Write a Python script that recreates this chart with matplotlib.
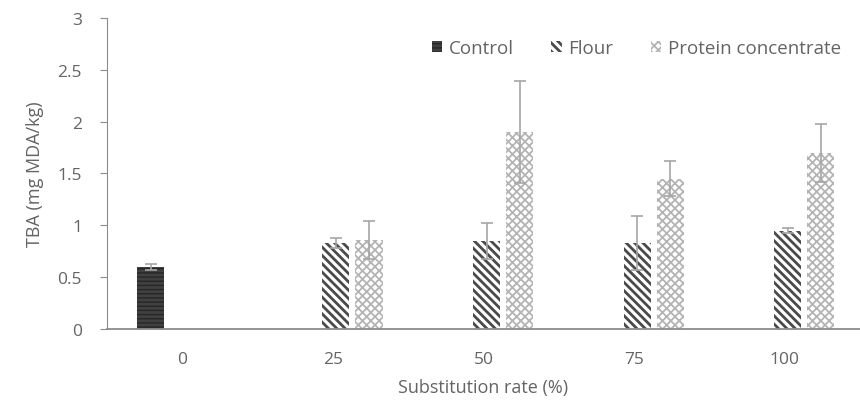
import numpy as np
import matplotlib
matplotlib.use("Agg")
import matplotlib.pyplot as plt

plt.rcParams['font.family'] = ['Open Sans', 'DejaVu Sans']
plt.rcParams['hatch.linewidth'] = 2.2

# data
rates = ['0', '25', '50', '75', '100']
control = [0.60, 0, 0, 0, 0]
control_err = [0.03, 0, 0, 0, 0]
flour = [0, 0.83, 0.85, 0.83, 0.95]
flour_err = [0, 0.05, 0.17, 0.26, 0.02]
protein = [0, 0.86, 1.90, 1.45, 1.70]
protein_err = [0, 0.18, 0.49, 0.17, 0.28]

txt = '#646464'
x = np.arange(len(rates))
w = 0.18
off = 0.22

fig = plt.figure(figsize=(8.6, 4.02), dpi=100)
ax = fig.add_axes([0.1244, 0.179, 0.8756, 0.774])

ekw = dict(ecolor='#a6a6a6', elinewidth=1.2, capsize=4, capthick=1.2)

# only draw bars where there is a value
xc = x[np.array(control) > 0]
b1 = ax.bar(xc - off + 0.01, np.array(control)[xc], w, yerr=np.array(control_err)[xc],
            color='#404040', edgecolor='#262626', hatch='----', linewidth=0,
            error_kw=ekw, label='Control')
xf = x[np.array(flour) > 0]
b2 = ax.bar(xf + 0.02, np.array(flour)[xf], w, yerr=np.array(flour_err)[xf],
            color='white', edgecolor='#4a4a4a', hatch='\\\\\\\\', linewidth=0,
            error_kw=ekw, label='Flour')
xp = x[np.array(protein) > 0]
b3 = ax.bar(xp + off + 0.02, np.array(protein)[xp], w, yerr=np.array(protein_err)[xp],
            color='white', edgecolor='#b4b4b4', hatch='xxxx', linewidth=0,
            error_kw=ekw, label='Protein concentrate')

# thinner lines for the cross pattern
for bars, lw in [(b1, 1.0), (b2, 2.0), (b3, 1.3)]:
    for p in bars.patches:
        if hasattr(p, 'set_hatch_linewidth'):
            p.set_hatch_linewidth(lw)

ax.set_xlim(-0.5, 4.5)
ax.set_ylim(0, 3)
ax.set_yticks([0, 0.5, 1, 1.5, 2, 2.5, 3])
ax.set_yticklabels(['0', '0.5', '1', '1.5', '2', '2.5', '3'])
ax.set_xticks(x)
ax.set_xticklabels(rates)

for s in ['top', 'right']:
    ax.spines[s].set_visible(False)
ax.spines['left'].set_color('#8c8c8c')
ax.spines['bottom'].set_color('#8c8c8c')
ax.spines['bottom'].set_linewidth(1.3)
ax.tick_params(axis='y', colors='#8c8c8c', labelcolor=txt, labelsize=12.5,
               length=5, direction='out', pad=13)
ax.tick_params(axis='x', length=0, labelcolor=txt, labelsize=12.5, pad=16)

ax.set_ylabel('TBA (mg MDA/kg)', color=txt, fontsize=13, labelpad=10)
ax.set_xlabel('Substitution rate (%)', color=txt, fontsize=13, labelpad=8)

leg = ax.legend(loc='upper right', bbox_to_anchor=(0.997, 0.985), ncol=3,
                frameon=False, fontsize=13.5, handlelength=0.55,
                handleheight=0.55, handletextpad=0.35, columnspacing=2.0)
for t in leg.get_texts():
    t.set_color(txt)
for h, lw in zip(leg.legend_handles, [1.0, 2.0, 1.3]):
    if hasattr(h, 'set_hatch_linewidth'):
        h.set_hatch_linewidth(lw)

fig.savefig('out.png', dpi=100)
